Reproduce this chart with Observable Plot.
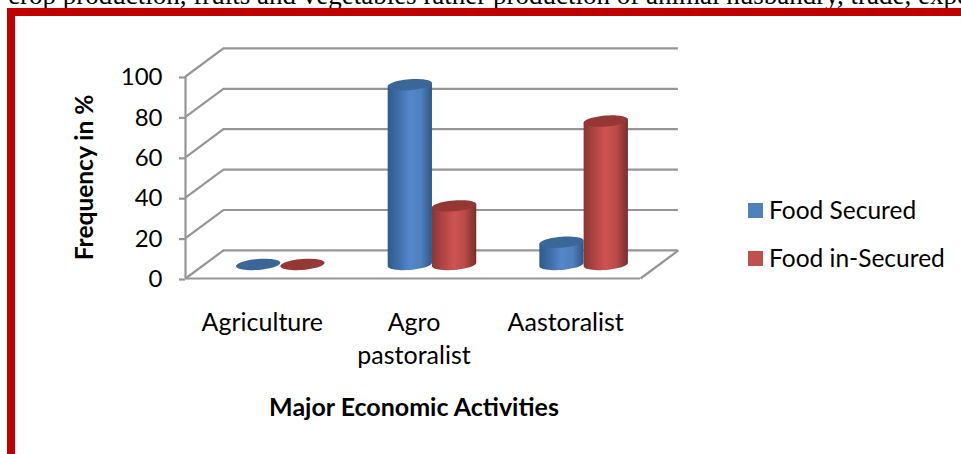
<!DOCTYPE html>
<html>
<head>
<meta charset="utf-8">
<script src="https://cdn.jsdelivr.net/npm/d3@7"></script>
<script src="https://cdn.jsdelivr.net/npm/@observablehq/plot@0.6"></script>
<style>
  html, body { margin: 0; padding: 0; background: #fff; }
  #page { position: relative; width: 961px; height: 454px; overflow: hidden; background: #fff; }
  #running-text {
    position: absolute; left: 8px; top: -19px; white-space: nowrap;
    font: 27px/28px "Liberation Serif", serif; color: #000;
  }
  #frame {
    position: absolute; left: 7px; top: 8px; width: 1000px; height: 500px;
    border: 8px solid #c00000; box-sizing: border-box;
  }
  #chart { position: absolute; left: 0; top: 0; }
  #legend { position: absolute; left: 748px; top: 0; font: 24.5px/30px Lato, sans-serif; color: #000; }
  .entry { position: absolute; left: 0; white-space: nowrap; }
  .swatch { position: absolute; left: 0; top: 8px; width: 15px; height: 15px; }
  .entry span { position: absolute; left: 21px; top: 0; }
</style>
</head>
<body>
<div id="page">
  <div id="running-text">crop production, fruits and vegetables rather production of animal husbandry, trade, expected</div>
  <div id="frame"></div>
  <div id="chart"></div>
  <div id="legend"></div>
</div>
<script>
// Share of households per activity, in percent
const categories = ["Agriculture", "Agro\npastoralist", "Aastoralist"];
const seriesNames = ["Food Secured", "Food in-Secured"];
const foodSecured = [0, 89, 11];
const foodInSecured = [0, 29, 71];
const yTicks = [0, 20, 40, 60, 80, 100];

// Pseudo-3D geometry, expressed in scale units (x: categories, y: percent)
const depthX = 0.25;
const depthY = 13.9;
const halfWidth = 0.146;
const capHeight = 2.7;
const capTilt = 0.075 * (151.7 * halfWidth) / 2.02; // rise of a cap's right end, in percent

const palette = [
  {swatch: "#4f81bd", cap: "#3b6798", gradient: "bodyBlue",
   stops: ["#2f5a8c", "#3f6ea8", "#5488cb", "#4f80bf", "#2e5784"]},
  {swatch: "#c0504d", cap: "#953735", gradient: "bodyRed",
   stops: ["#8a3634", "#b04644", "#cd5452", "#b84a48", "#772e2d"]}
];

const angles = d3.range(0, 49).map(i => i / 48 * 2 * Math.PI);

function ellipsePoint(cx, cy, t) {
  return {
    x: cx + halfWidth * Math.cos(t),
    y: cy + capHeight * Math.sin(t) + capTilt * Math.cos(t)
  };
}

// Closed outline of a cap at height cy
function capOutline(cx, cy) {
  return angles.map(t => ellipsePoint(cx, cy, t));
}

// Closed outline of a cylinder's side: lower rim of the base, then up to the top
function bodyOutline(cx, base, top) {
  const lower = angles.filter(t => t >= Math.PI).map(t => ellipsePoint(cx, base, t));
  return [...lower, ellipsePoint(cx, top, 0), ellipsePoint(cx, top, Math.PI)];
}

const cylinderMarks = [];
categories.forEach((_, i) => {
  [foodSecured[i], foodInSecured[i]].forEach((value, s) => {
    const cx = i + 0.5 + depthX / 2 + (s === 0 ? -halfWidth : halfWidth);
    const base = depthY / 2;
    const top = base + value;
    const style = palette[s];
    if (value > 0) {
      cylinderMarks.push(Plot.line(bodyOutline(cx, base, top), {
        x: "x", y: "y", fill: `url(#${style.gradient})`, stroke: "none"
      }));
    }
    cylinderMarks.push(Plot.line(capOutline(cx, top), {
      x: "x", y: "y", fill: style.cap, stroke: "none"
    }));
  });
});

function gradientDefs() {
  const defs = d3.create("svg:defs");
  palette.forEach(style => {
    const g = defs.append("linearGradient").attr("id", style.gradient)
      .attr("x1", 0).attr("x2", 1).attr("y1", 0).attr("y2", 0);
    style.stops.forEach((c, k) => {
      g.append("stop").attr("offset", k / (style.stops.length - 1)).attr("stop-color", c);
    });
  });
  return defs.node();
}

const gridColor = "#969696";
const xMax = categories.length;
const wallLines = {stroke: gridColor, strokeWidth: 2.2};
const font = "Lato, sans-serif";

const chart = Plot.plot({
  width: 961,
  height: 454,
  marginLeft: 185,
  marginRight: 321,
  marginTop: 76,
  marginBottom: 176,
  style: {background: "transparent", color: "#000", overflow: "visible"},
  x: {domain: [0, xMax]},
  y: {domain: [0, 100]},
  marks: [
    gradientDefs,
    // back wall grid
    Plot.ruleY(yTicks, {y: d => d + depthY, x1: depthX, x2: xMax + depthX, ...wallLines}),
    // side wall grid
    Plot.link(yTicks, {x1: 0, x2: depthX, y1: d => d, y2: d => d + depthY, ...wallLines, markerEnd: "none"}),
    // floor edges and value axis line
    Plot.ruleY([0], {x1: 0, x2: xMax, ...wallLines}),
    Plot.link([0], {x1: xMax, x2: xMax + depthX, y1: 0, y2: depthY, ...wallLines}),
    Plot.ruleX([0], {y1: 0, y2: 100, ...wallLines}),
    Plot.axisY({
      ticks: yTicks, tickSize: 6, tickPadding: 17, fontSize: 24, fontFamily: font,
      stroke: gridColor, strokeWidth: 2.2, label: null, dy: 1
    }),
    Plot.axisX({
      ticks: categories.map((_, i) => i + 0.5),
      tickFormat: d => categories[Math.floor(d)],
      tickSize: 0, tickPadding: 29, lineHeight: 1.32, fontSize: 25, fontFamily: font,
      label: null, dx: 1
    }),
    ...cylinderMarks,
    Plot.text(["Major Economic Activities"], {
      frameAnchor: "bottom", lineAnchor: "middle", dx: 1, dy: 129, fontSize: 25, fontWeight: "bold", fontFamily: font
    }),
    Plot.text(["Frequency in %"], {
      frameAnchor: "left", textAnchor: "middle", dx: -100, rotate: -90, fontSize: 24.5, fontWeight: "bold", fontFamily: font
    })
  ]
});
document.getElementById("chart").append(chart);

const legendTops = [195, 243];
const legend = d3.select("#legend");
seriesNames.forEach((name, s) => {
  const entry = legend.append("div").attr("class", "entry").style("top", legendTops[s] + "px");
  entry.append("div").attr("class", "swatch").style("background", palette[s].swatch);
  entry.append("span").text(name);
});
</script>
</body>
</html>
